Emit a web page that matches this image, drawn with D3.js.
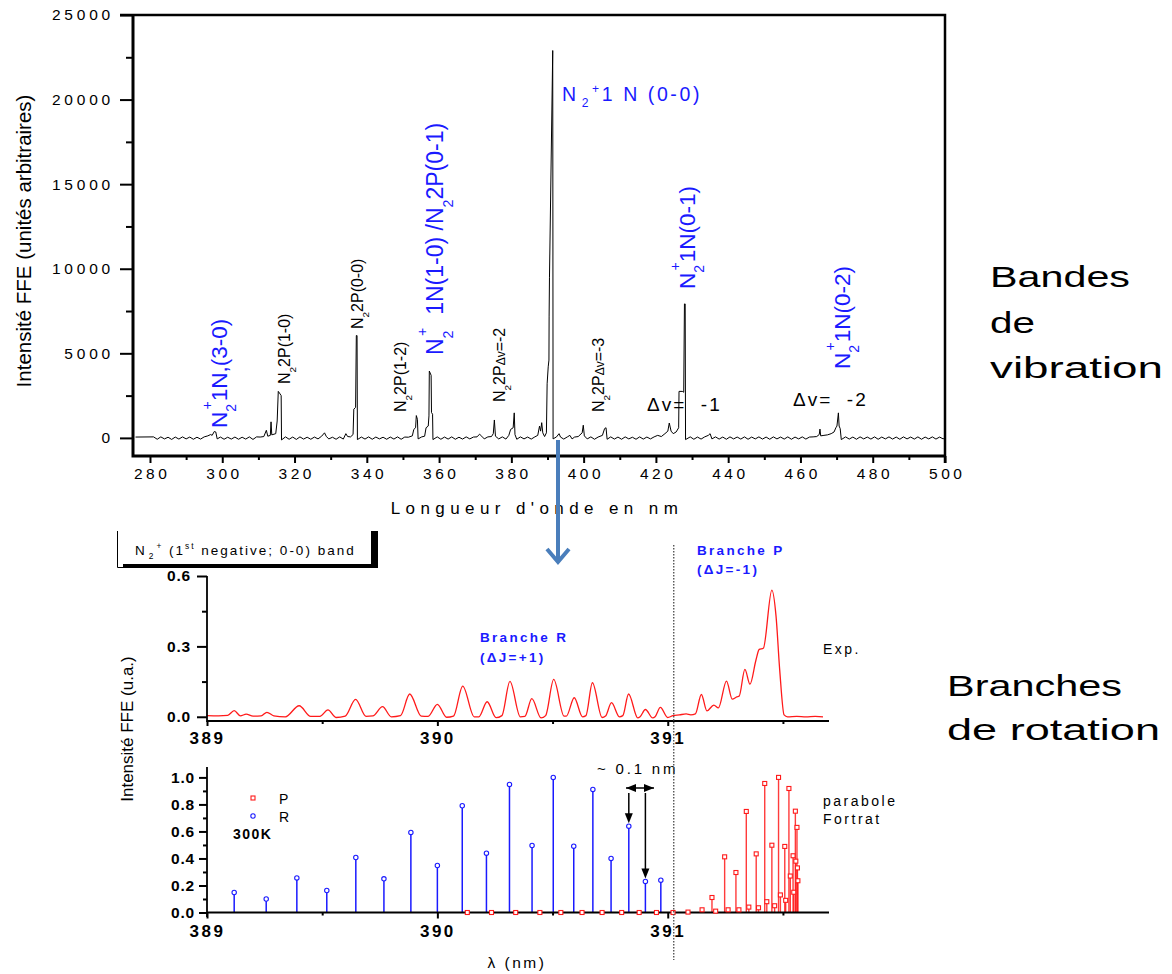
<!DOCTYPE html>
<html><head><meta charset="utf-8">
<script src="https://cdn.jsdelivr.net/npm/d3@7"></script>
<style>
body{margin:0;background:#fff}
svg{display:block;background:#fff}
text{font-family:"Liberation Sans",Arial,sans-serif;white-space:pre}
</style>
</head><body>
<svg id="c" width="1172" height="974"></svg>
<script>
// ---------- DATA ----------
// Vibrational spectrum: [wavelength nm, intensity a.u.]
const vibSpectrum = [
[276,50],[281,60],[282,-80],[283,60],[284,-60],[285,40],[286,-90],[287,50],[288,-70],[289,60],[290,-60],[291,50],[292,-80],[293,40],[294,-70],[295,60],
[296,120],[296.8,200],[297.2,150],[297.8,380],[298.2,350],[298.6,-60],[299.5,50],[300.5,-80],[301.5,40],[302.5,-70],[303.5,50],[304.5,-80],[305.5,40],
[306.5,-70],[307.5,60],[308.5,-90],[309.5,60],[310.5,50],[311.5,80],[312.2,450],[312.6,100],[313.3,150],[313.5,950],[313.7,180],[314.8,250],[315.2,1000],
[315.5,2750],[316.0,2600],[316.3,2500],[316.4,-120],[317.5,60],[318.5,-80],[319.5,50],[320.5,-90],[321.5,60],[322.5,-70],[323.5,40],[324.5,-80],[325.5,50],
[326.5,-60],[327.5,100],[328.3,300],[328.8,80],[329.5,-60],[330.5,40],[331.5,-80],[332.5,60],[333.5,-70],[334.2,250],[334.7,80],[335.5,60],[336.2,200],
[336.4,1700],[336.9,1800],[337.1,6050],[337.3,6050],[337.4,-100],[338.5,50],[339.5,-70],[340.5,60],[341.5,-80],[342.5,50],[343.5,-60],[344.5,40],[345.5,-80],
[346.5,50],[347.5,-70],[348.5,60],[349.5,-80],[350.5,50],[351.5,40],[352.6,120],[353.0,500],[353.5,600],[353.7,1320],[354.0,1100],[354.2,-60],[355.2,60],
[356.0,100],[356.4,600],[357.0,700],[357.2,1300],[357.3,3950],[357.8,3700],[357.9,1500],[358.2,1400],[358.3,-100],[359.5,60],[360.5,-80],[361.5,50],
[362.5,-70],[363.5,60],[364.5,-80],[365.5,40],[366.5,-70],[367.5,60],[368.5,-60],[369.5,50],[370.5,60],[371.2,220],[371.8,100],[372.5,-60],[373.5,60],
[374.5,80],[375.0,250],[375.3,1060],[375.6,100],[376.5,-60],[377.5,60],[378.5,-70],[379.3,150],[379.8,500],[380.5,600],[380.8,1480],[381.0,200],[381.5,-80],
[382.5,60],[383.5,-60],[384.5,50],[385.5,-70],[386.5,60],[387.3,150],[387.8,700],[388.1,400],[388.4,900],[388.7,300],[389.2,80],[389.7,300],[389.9,3200],
[390.2,4200],[390.4,4600],[390.45,7200],[390.55,9500],[391.45,22900],[391.55,-60],[392.5,60],[393.2,250],[393.6,50],[394.5,-70],[395.5,60],[396.2,150],
[396.8,-60],[397.5,50],[398.5,80],[399.6,300],[399.9,750],[400.2,120],[401,-60],[402,60],[403,-80],[404,50],[405.2,150],[405.8,550],[406.2,600],[406.5,-80],
[407.5,60],[408.5,-70],[409.5,50],[410.5,-80],[411.5,60],[412.5,-60],[413.5,40],[414.5,-80],[415.5,60],[416.5,-70],[417.5,50],[418.5,-60],[419.5,60],
[420.5,150],[421.5,80],[422.5,250],[423.3,400],[423.7,880],[424.2,400],[424.8,250],[425.6,350],[426.3,600],[426.4,2750],[427.3,2750],[427.7,2700],
[427.9,7920],[428.1,7920],[428.2,-100],[429.5,60],[430.5,-80],[431.5,50],[432.5,-70],[433.5,60],[434.5,150],[435.0,250],[435.5,-60],[436.5,60],[437.5,-70],
[438.5,50],[439.5,-80],[440.5,60],[441.5,-60],[442.5,50],[443.5,-70],[444.5,60],[445.5,-80],[446.5,50],[447.5,-60],[448.5,60],[449.5,-70],[450.5,50],
[451.5,-80],[452.5,60],[453.5,-60],[454.5,50],[455.5,-70],[456.5,60],[457.5,-80],[458.5,50],[459.5,-60],[460.5,60],[461.5,-70],[462.5,50],[463.5,60],
[464.5,80],[465.2,200],[465.4,520],[465.6,120],[466.5,150],[467.5,180],[468.5,250],[469.3,350],[469.8,600],[470.1,700],[470.5,1480],[470.7,700],[471.0,550],
[471.3,-100],[472.5,60],[473.5,-70],[474.5,50],[475.5,-80],[476.5,60],[477.5,-60],[478.5,50],[479.5,-70],[480.5,60],[481.5,-80],[482.5,50],[483.5,-60],
[484.5,60],[485.5,-70],[486.5,50],[487.5,-80],[488.5,60],[489.5,-60],[490.5,50],[491.5,-70],[492.5,60],[493.5,-80],[494.5,50],[495.5,-60],[496.5,60],
[497.5,-70],[498.5,50],[499.5,-60],[500,40]
];
const vibXTicks = [280,300,320,340,360,380,400,420,440,460,480,500];
const vibXMinor = [290,310,330,350,370,390,410,430,450,470,490];
const vibYTicks = [0,5000,10000,15000,20000,25000];
const vibYMinor = [2500,7500,12500,17500,22500];

// Experimental rotational spectrum of N2+ (0-0): [nm, intensity]
const expSpectrum = [
[389.0,0.005],[389.05,0.004],[389.09,0.006],[389.118,0.026],[389.145,0.004],[389.17,0.011],[389.2,0.003],[389.235,0.004],[389.26,0.019],[389.29,0.004],
[389.34,0.0],[389.40,0.047],[389.45,0.002],[389.49,0.002],[389.525,0.029],[389.56,-0.003],[389.6,0.003],[389.645,0.074],[389.69,0.002],[389.72,0.004],
[389.762,0.043],[389.8,0.0],[389.84,0.005],[389.88,0.097],[389.93,0.003],[389.96,0.002],[390.0,0.053],[390.04,-0.002],[390.07,0.003],[390.11,0.131],
[390.16,0.0],[390.18,0.0],[390.216,0.064],[390.255,-0.004],[390.28,0.005],[390.315,0.151],[390.36,0.0],[390.38,0.002],[390.41,0.077],[390.45,-0.005],
[390.47,0.005],[390.505,0.159],[390.55,0.003],[390.56,0.003],[390.594,0.081],[390.63,0.0],[390.645,0.005],[390.673,0.145],[390.715,-0.003],[390.73,0.003],
[390.756,0.060],[390.79,0.0],[390.805,0.005],[390.83,0.097],[390.87,-0.005],[390.88,0.0],[390.903,0.031],[390.935,-0.005],[390.945,0.0],[390.968,0.040],
[391.0,-0.003],[391.023,0.005],[391.05,0.008],[391.08,0.012],[391.1,0.008],[391.12,0.012],[391.146,0.095],[391.17,0.025],[391.2,0.05],[391.22,0.038],
[391.255,0.152],[391.28,0.075],[391.3,0.085],[391.31,0.088],[391.335,0.202],[391.357,0.139],[391.383,0.242],[391.397,0.287],[391.415,0.292],[391.452,0.54],
[391.47,0.43],[391.486,0.2],[391.505,0.008],[391.52,0.0],[391.56,0.002],[391.6,0.0],[391.64,0.002],[391.674,0.0]
];
const rotXTicks = [389,390,391];
const rotXMinor = [389.5,390.5,391.5];
const expYTicks = [0,0.3,0.6];
const expYMinor = [0.15,0.45];
const theoYTicks = [0,0.2,0.4,0.6,0.8,1.0];
const theoYMinor = [0.1,0.3,0.5,0.7,0.9];

// Simulated (Fortrat parabola) lines, 300 K
const rNm  = [389.118,389.257,389.39,389.52,389.646,389.768,389.885,390.0,390.108,390.213,390.313,390.411,390.503,390.592,390.675,390.754,390.831,390.903,390.97];
const rVal = [0.148,0.10,0.256,0.163,0.407,0.249,0.593,0.348,0.79,0.439,0.948,0.496,1.0,0.491,0.911,0.40,0.639,0.23,0.239];
const pNm  = [390.13,390.235,390.34,390.445,390.536,390.628,390.715,390.80,390.876,390.951,391.023,391.088,391.149,391.192,391.208,391.247,391.262,391.296,
              391.309,391.341,391.352,391.384,391.394,391.421,391.43,391.452,391.464,391.481,391.489,391.508,391.512,391.526,391.532,391.544,391.547,391.554,
              391.556,391.561,391.563,391.565];
const pVal = [0,0,0,0,0,0,0,0,0,0,0,0.003,0.02,0.111,0.01,0.412,0.02,0.296,0.02,0.748,0.04,0.434,0.035,0.955,0.08,0.498,0.05,1.0,0.13,0.489,0.09,0.918,
              0.27,0.42,0.15,0.75,0.38,0.63,0.33,0.235];

// ---------- DRAW ----------
const svg = d3.select('#c');
const BLUE = '#1a1aff', RED = '#ff1a1a';

function rich(g, x, y, rot, parts, size, color, extra, sh) {
  sh = sh || {sub: 0.32, sup: -0.42};
  const t = g.append('text')
    .attr('transform', `translate(${x},${y})` + (rot ? ` rotate(${rot})` : ''))
    .attr('font-size', size).attr('fill', color);
  if (extra) extra(t);
  let cur = 0;
  parts.forEach(p => {
    const o = typeof p === 'string' ? {t: p} : p;
    let target = 0, fs = size;
    if (o.sub) { target = sh.sub * size; fs = 0.62 * size; }
    if (o.sup) { target = sh.sup * size; fs = 0.62 * size; }
    if (o.small) fs = o.small;
    const s = t.append('tspan').text(o.t).attr('font-size', fs).attr('dy', target - cur);
    if (o.dx) s.attr('dx', o.dx);
    cur = target;
  });
  return t;
}

// ===== Top chart =====
const xV = d3.scaleLinear().domain([275.3, 500]).range([133, 945]);
const yV = d3.scaleLinear().domain([-1070, 25000]).range([456, 15]);
const gT = svg.append('g');

gT.append('path').datum(vibSpectrum)
  .attr('fill', 'none').attr('stroke', '#000').attr('stroke-width', 1)
  .attr('d', d3.line().x(d => xV(d[0])).y(d => yV(d[1])));

function styleAxis(g, fs, ls, weight) {
  g.select('.domain').remove();
  g.selectAll('.tick line').attr('stroke', '#000').attr('stroke-width', 2);
  g.selectAll('.tick text').attr('font-size', fs).attr('letter-spacing', ls)
    .attr('font-family', '"Liberation Sans",Arial,sans-serif').attr('font-weight', weight || 'normal').attr('fill', '#000');
}
gT.append('g').attr('transform', 'translate(0,456)')
  .call(d3.axisBottom(xV).tickValues(vibXMinor).tickSize(4).tickFormat(''))
  .call(g => styleAxis(g, 15, 0));
gT.append('g').attr('transform', 'translate(0,456)')
  .call(d3.axisBottom(xV).tickValues(vibXTicks).tickSize(7).tickPadding(5).tickFormat(d3.format('d')))
  .call(g => styleAxis(g, 15.5, '3.5px'))
  .call(g => g.selectAll('.tick text').attr('dx', '1.7px'));
gT.append('g').attr('transform', 'translate(133,0)')
  .call(d3.axisLeft(yV).tickValues(vibYMinor).tickSize(7).tickFormat(''))
  .call(g => styleAxis(g, 15, 0));
gT.append('g').attr('transform', 'translate(133,0)')
  .call(d3.axisLeft(yV).tickValues(vibYTicks).tickSize(13).tickPadding(6).tickFormat(d3.format('d')))
  .call(g => styleAxis(g, 15.5, '3.8px'));
// frame
gT.append('path').attr('fill', 'none').attr('stroke', '#000').attr('stroke-width', 3)
  .attr('d', `M133,15V456H945`);
gT.append('path').attr('fill', 'none').attr('stroke', '#000').attr('stroke-width', 2.5)
  .attr('d', `M120,15H945V463`);

gT.append('text').attr('x', 537).attr('y', 514).attr('text-anchor', 'middle')
  .attr('font-size', 17).attr('letter-spacing', '5.4px').text("Longueur d'onde en nm");
gT.append('text').attr('transform', 'translate(31,241) rotate(-90)').attr('text-anchor', 'middle')
  .attr('font-size', 20.5).text('Intensité FFE (unités arbitraires)');

// peak labels (rotated)
const RS = {sub: 0.42, sup: -0.68};
const N2p = ['N', {t: '2', sub: true}, {t: '+', sup: true, dx: -5.5}];
rich(gT, 227, 428, -90, [...N2p, '1N,(3-0)'], 22.5, BLUE, null, RS);
rich(gT, 290, 384, -90, ['N', {t: '2', sub: true}, '2P(1-0)'], 16, '#000', null, {sub: 0.36, sup: 0});
rich(gT, 363, 329, -90, ['N', {t: '2', sub: true}, '2P(0-0)'], 16, '#000', null, {sub: 0.36, sup: 0});
rich(gT, 406, 412, -90, ['N', {t: '2', sub: true}, '2P(1-2)'], 16, '#000', null, {sub: 0.36, sup: 0});
rich(gT, 443, 355, -90, [...N2p, '  1N(1-0) /N', {t: '2', sub: true}, '2P(0-1)'], 23, BLUE, null, RS);
rich(gT, 505, 402, -90, ['N', {t: '2', sub: true}, '2P', {t: 'Δv', small: 12}, '=-2'], 16, '#000', null, {sub: 0.36, sup: 0});
rich(gT, 604, 412, -90, ['N', {t: '2', sub: true}, '2P', {t: 'Δv', small: 12}, '=-3'], 16, '#000', null, {sub: 0.36, sup: 0});
rich(gT, 695, 289, -90, [...N2p, '1N(0-1)'], 22.5, BLUE, null, RS);
rich(gT, 850, 369, -90, [...N2p, '1N(0-2)'], 22.5, BLUE, null, RS);
rich(gT, 562, 101, 0, ['N', {t: '2', sub: true, dx: 3}, {t: '+', sup: true, dx: 1}, '1 N (0-0)'], 19.5, BLUE,
  t => t.attr('letter-spacing', '2.6px'));
gT.append('text').attr('x', 647).attr('y', 411).attr('font-size', 19).attr('letter-spacing', '2px').text('Δv=  -1');
gT.append('text').attr('x', 793).attr('y', 406).attr('font-size', 19).attr('letter-spacing', '2px').text('Δv=  -2');

// right side captions
const cap = svg.append('g').attr('fill', '#000');
[['Bandes', 990, 287, 140], ['de', 990, 333, 45], ['vibration', 990, 378, 173],
 ['Branches', 947, 696, 175], ['de rotation', 947, 740, 213]].forEach(([t, x, y, w]) => {
  cap.append('text').attr('x', x).attr('y', y).attr('font-size', 30).attr('font-family', '"Open Sans",sans-serif')
    .attr('textLength', w).attr('lengthAdjust', 'spacingAndGlyphs').text(t);
});

// ===== Experimental panel =====
const xR = d3.scaleLinear().domain([389, 391.7]).range([207, 829]);
const yE = d3.scaleLinear().domain([-0.018, 0.6]).range([721, 576]);
const gE = svg.append('g');
gE.append('path').datum(expSpectrum).attr('fill', 'none').attr('stroke', RED).attr('stroke-width', 1.3)
  .attr('d', d3.line().x(d => xR(d[0])).y(d => yE(d[1])).curve(d3.curveMonotoneX));
gE.append('g').attr('transform', 'translate(0,721)')
  .call(d3.axisBottom(xR).tickValues(rotXMinor).tickSize(3).tickFormat(''))
  .call(g => styleAxis(g, 10, 0));
gE.append('g').attr('transform', 'translate(0,721)')
  .call(d3.axisBottom(xR).tickValues(rotXTicks).tickSize(5).tickPadding(6).tickFormat(d3.format('d')))
  .call(g => styleAxis(g, 17, '2.5px', 'bold'));
gE.append('g').attr('transform', 'translate(207,0)')
  .call(d3.axisLeft(yE).tickValues(expYMinor).tickSize(5).tickFormat(''))
  .call(g => styleAxis(g, 10, 0));
gE.append('g').attr('transform', 'translate(207,0)')
  .call(d3.axisLeft(yE).tickValues(expYTicks).tickSize(10).tickPadding(6).tickFormat(d3.format('.1f')))
  .call(g => styleAxis(g, 15.5, '0.8px', 'bold'));
gE.append('path').attr('fill', 'none').attr('stroke', '#000').attr('stroke-width', 1.8)
  .attr('d', `M207,576V721H829`);

// legend box
const lb = svg.append('g');
lb.append('path').attr('fill', 'none').attr('stroke', '#000').attr('stroke-width', 1).attr('d', 'M117.5,531V567.5H370');
lb.append('path').attr('fill', '#000').attr('d', 'M123,568H378V531H371V564H123Z');
rich(lb, 135, 555, 0, ['N', {t: '2', sub: true, dx: 2}, {t: '+', sup: true, dx: 1}, ' (1', {t: 'st', sup: true}, ' negative; 0-0) band'], 13.5, '#000',
  t => t.attr('letter-spacing', '2px'));

// branch labels
const bl = svg.append('g').attr('fill', BLUE).attr('font-weight', 'bold').attr('font-size', 13.5).attr('letter-spacing', '2.3px');
bl.append('text').attr('x', 480).attr('y', 642).text('Branche R');
bl.append('text').attr('x', 480).attr('y', 662).text('(ΔJ=+1)');
bl.append('text').attr('x', 697).attr('y', 555).text('Branche P');
bl.append('text').attr('x', 697).attr('y', 574).text('(ΔJ=-1)');
svg.append('text').attr('x', 823).attr('y', 654).attr('font-size', 14).attr('letter-spacing', '2.5px').text('Exp.');

// ===== Theoretical panel =====
const yT = d3.scaleLinear().domain([0, 1.077]).range([912.5, 767]);
const gS = svg.append('g');
const pData = pNm.map((d, i) => [d, pVal[i]]);
const rData = rNm.map((d, i) => [d, rVal[i]]);
gS.selectAll('line.p').data(pData).join('line').attr('class', 'p')
  .attr('x1', d => xR(d[0])).attr('x2', d => xR(d[0])).attr('y1', yT(0)).attr('y2', d => yT(d[1]))
  .attr('stroke', RED).attr('stroke-width', 1.4).attr('opacity', 0.85);
gS.selectAll('line.r').data(rData).join('line').attr('class', 'r')
  .attr('x1', d => xR(d[0])).attr('x2', d => xR(d[0])).attr('y1', yT(0)).attr('y2', d => yT(d[1]))
  .attr('stroke', BLUE).attr('stroke-width', 1.5);

gS.append('g').attr('transform', 'translate(0,912.5)')
  .call(d3.axisBottom(xR).tickValues(rotXMinor).tickSize(3).tickFormat(''))
  .call(g => styleAxis(g, 10, 0));
gS.append('g').attr('transform', 'translate(0,912.5)')
  .call(d3.axisBottom(xR).tickValues(rotXTicks).tickSize(6).tickPadding(6).tickFormat(d3.format('d')))
  .call(g => styleAxis(g, 17, '2.5px', 'bold'));
gS.append('g').attr('transform', 'translate(207,0)')
  .call(d3.axisLeft(yT).tickValues(theoYMinor).tickSize(4).tickFormat(''))
  .call(g => styleAxis(g, 10, 0));
gS.append('g').attr('transform', 'translate(207,0)')
  .call(d3.axisLeft(yT).tickValues(theoYTicks).tickSize(8).tickPadding(4).tickFormat(d3.format('.1f')))
  .call(g => styleAxis(g, 15.5, '0.8px', 'bold'));
gS.append('path').attr('fill', 'none').attr('stroke', '#000').attr('stroke-width', 1.8)
  .attr('d', `M207,767V917M207,912.5H829`);

gS.selectAll('rect.pm').data(pData).join('rect').attr('class', 'pm')
  .attr('x', d => xR(d[0]) - 2).attr('y', d => yT(d[1]) - 2).attr('width', 4).attr('height', 4)
  .attr('fill', '#fff').attr('stroke', RED).attr('stroke-width', 1.1);
gS.selectAll('circle.rm').data(rData).join('circle').attr('class', 'rm')
  .attr('cx', d => xR(d[0])).attr('cy', d => yT(d[1])).attr('r', 2.2)
  .attr('fill', '#fff').attr('stroke', BLUE).attr('stroke-width', 1.1);

// legend
gS.append('rect').attr('x', 251).attr('y', 796).attr('width', 4).attr('height', 4).attr('fill', '#fff').attr('stroke', RED).attr('stroke-width', 1.1);
gS.append('circle').attr('cx', 253).attr('cy', 816).attr('r', 2.2).attr('fill', '#fff').attr('stroke', BLUE).attr('stroke-width', 1.1);
gS.append('text').attr('x', 279).attr('y', 804).attr('font-size', 14).text('P');
gS.append('text').attr('x', 279).attr('y', 822).attr('font-size', 14).text('R');
gS.append('text').attr('x', 233).attr('y', 839).attr('font-size', 14).attr('font-weight', 'bold').attr('letter-spacing', '1.5px').text('300K');
gS.append('text').attr('x', 823).attr('y', 806).attr('font-size', 14).attr('letter-spacing', '2.5px').text('parabole');
gS.append('text').attr('x', 823).attr('y', 824).attr('font-size', 14).attr('letter-spacing', '2.5px').text('Fortrat');
gS.append('text').attr('x', 597).attr('y', 774).attr('font-size', 15).attr('letter-spacing', '2.8px').text('~ 0.1 nm');

// annotation arrows
const A = gS.append('g').attr('stroke', '#000').attr('fill', '#000');
function vArrow(x, y0, y1) {
  A.append('line').attr('x1', x).attr('x2', x).attr('y1', y0).attr('y2', y1 - 8).attr('stroke-width', 1.5);
  A.append('path').attr('stroke', 'none').attr('d', `M${x - 4},${y1 - 10}L${x + 4},${y1 - 10}L${x},${y1}Z`);
}
vArrow(xR(390.831), 793, yT(0.639) - 3);
vArrow(xR(390.903), 793, yT(0.23) - 3);
A.append('line').attr('x1', 626).attr('x2', 654).attr('y1', 788).attr('y2', 788).attr('stroke-width', 1.5);
A.append('path').attr('stroke', 'none').attr('d', 'M626,788L636,784L636,792Z');
A.append('path').attr('stroke', 'none').attr('d', 'M654,788L644,784L644,792Z');

// dotted separator
svg.append('line').attr('x1', xR(391.026)).attr('x2', xR(391.026)).attr('y1', 545).attr('y2', 960)
  .attr('stroke', '#555').attr('stroke-width', 1.4).attr('stroke-dasharray', '1.5,1.5');

// shared y title
svg.append('text').attr('transform', 'translate(133,729) rotate(-90)').attr('text-anchor', 'middle')
  .attr('font-size', 17).text('Intensité FFE (u.a.)');
svg.append('text').attr('x', 517).attr('y', 968).attr('text-anchor', 'middle').attr('font-size', 15.5)
  .attr('letter-spacing', '2.5px').text('λ (nm)');

// blue zoom arrow
const ba = svg.append('g').attr('stroke', '#4a7ebb').attr('stroke-width', 4).attr('fill', 'none').attr('stroke-linecap', 'butt');
ba.append('line').attr('x1', 558).attr('x2', 558).attr('y1', 440).attr('y2', 561);
ba.append('path').attr('d', 'M547,549L558,562L569,549');
</script>
</body></html>
